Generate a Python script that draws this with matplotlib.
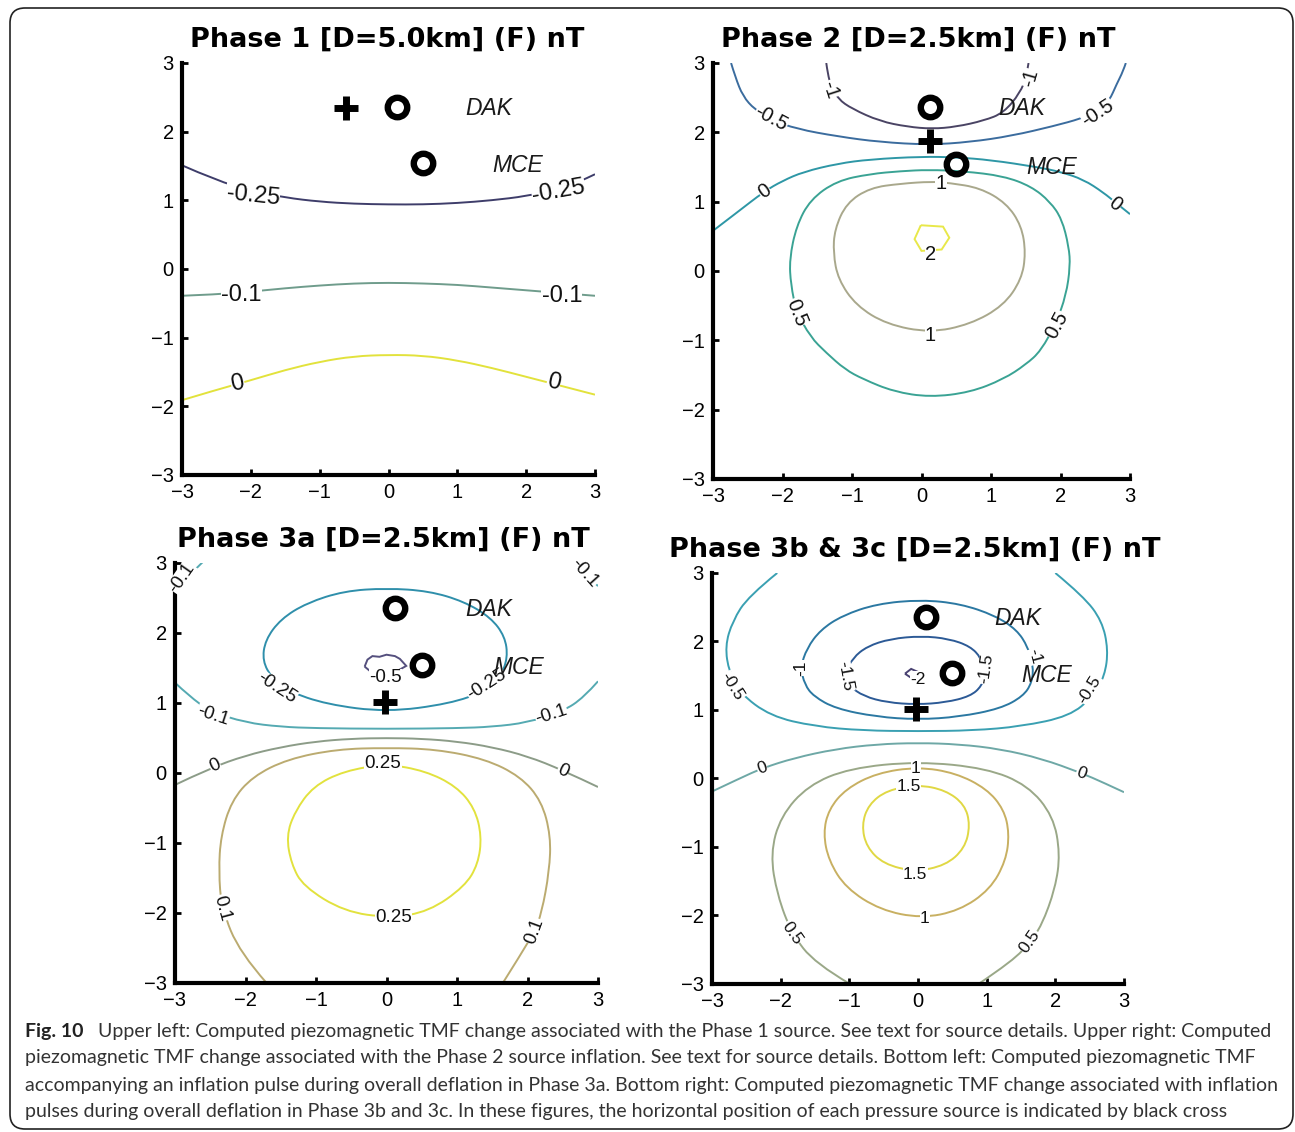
import matplotlib
matplotlib.use("Agg")
import matplotlib.pyplot as plt
from matplotlib.patches import FancyBboxPatch, PathPatch
from matplotlib.path import Path

W, H = 1295, 1132

# station locations (km) and the source cross of each phase
stations = ["DAK", "MCE"]
station_x = [0.12, 0.5]
station_y = [2.36, 1.54]
station_label_x = [1.45, 1.88]
station_label_y = [2.34, 1.50]
source_x = [-0.62, 0.12, -0.02, -0.03]
source_y = [2.35, 1.87, 1.02, 1.01]

titles = ["Phase 1 [D=5.0km] (F) nT", "Phase 2 [D=2.5km] (F) nT",
          "Phase 3a [D=2.5km] (F) nT", "Phase 3b & 3c [D=2.5km] (F) nT"]

# ---- Phase 1 contour lines: level -> list of (x, y) segments
p1_lines = {
    "-0.25": [([-3, -2.5, -2, -1.5, -1, -0.5, 0, 0.5, 1, 1.5, 2, 2.5, 2.75, 3],
               [1.51, 1.29, 1.14, 1.04, 0.98, 0.95, 0.94, 0.94, 0.96, 1.0, 1.06, 1.17, 1.26, 1.38])],
    "-0.1": [([-3, -2.5, -2, -1.5, -1, -0.5, 0, 0.5, 1, 1.5, 2, 2.5, 3],
              [-0.39, -0.37, -0.33, -0.28, -0.24, -0.21, -0.20, -0.21, -0.23, -0.27, -0.31, -0.35, -0.39])],
    "0": [([-3, -2.5, -2, -1.5, -1, -0.5, 0, 0.5, 1, 1.5, 2, 2.5, 3],
           [-1.91, -1.76, -1.62, -1.47, -1.35, -1.27, -1.25, -1.26, -1.33, -1.44, -1.57, -1.70, -1.83])],
}
p1_colors = {"-0.25": "#3e3d6a", "-0.1": "#6f9c8c", "0": "#e2e23c"}
p1_labels = [("-0.25", -1.97, 1.07, -6), ("-0.25", 2.47, 1.13, 10),
             ("-0.1", -2.14, -0.38, 0), ("-0.1", 2.52, -0.39, 0),
             ("0", -2.19, -1.67, 12), ("0", 2.4, -1.65, -12)]

# ---- Phase 2
p2_lines = {
    "-1": [([-1.37, -1.33, -1.2, -1.0, -0.6, -0.2, 0.15, 0.5, 0.9, 1.18, 1.42, 1.51, 1.54],
            [3.0, 2.7, 2.48, 2.34, 2.16, 2.08, 2.05, 2.08, 2.17, 2.28, 2.57, 2.81, 3.0])],
    "-0.5": [([-2.74, -2.68, -2.57, -2.4, -2.16, -1.8, -1.2, -0.6, 0.1, 0.7, 1.3, 1.9, 2.3, 2.54, 2.7, 2.81, 2.9, 2.94],
              [3.0, 2.8, 2.52, 2.33, 2.18, 2.05, 1.94, 1.86, 1.82, 1.86, 1.95, 2.09, 2.2, 2.3, 2.45, 2.7, 2.88, 3.0])],
    "0": [([-3, -2.66, -2.26, -2.0, -1.7, -1.2, -0.74, 0, 0.5, 1.0, 1.66, 2.0, 2.33, 2.62, 2.8, 3.0],
           [0.58, 0.84, 1.15, 1.3, 1.43, 1.55, 1.61, 1.65, 1.64, 1.6, 1.5, 1.43, 1.32, 1.13, 0.98, 0.82])],
    "0.5": [([0.1, -0.3, -0.74, -1.22, -1.6, -1.8, -1.9, -1.88, -1.8, -1.6, -1.37, -1.1, -0.84, -0.4, 0.12,
              0.7, 1.18, 1.5, 1.72, 1.94, 2.08, 2.14, 2.12, 2.02, 1.85, 1.58, 1.18, 0.6, 0.1],
             [1.46, 1.44, 1.40, 1.30, 1.03, 0.65, 0.17, -0.2, -0.58, -0.95, -1.18, -1.42, -1.56, -1.74, -1.82,
              -1.75, -1.56, -1.35, -1.15, -0.74, -0.35, 0.07, 0.35, 0.75, 1.0, 1.22, 1.37, 1.44, 1.46])],
    "1": [([0.15, -0.3, -0.74, -1.08, -1.25, -1.27, -1.2, -0.94, -0.5, 0.12, 0.7, 1.18, 1.44, 1.5, 1.44, 1.22, 0.84, 0.4, 0.15],
           [1.29, 1.26, 1.2, 0.98, 0.6, 0.26, -0.12, -0.5, -0.77, -0.89, -0.77, -0.5, -0.12, 0.26, 0.65, 0.98, 1.2, 1.27, 1.29])],
    "2": [([-0.01, 0.31, 0.40, 0.29, 0.0, -0.10, -0.01],
           [0.66, 0.64, 0.48, 0.31, 0.29, 0.46, 0.66])],
}
p2_colors = {"-1": "#4a4464", "-0.5": "#3b6c9e", "0": "#2e97a6",
             "0.5": "#3aa394", "1": "#a9a88c", "2": "#e8e84a"}
p2_labels = [("-1", -1.32, 2.62, -72), ("-1", 1.56, 2.78, 74),
             ("-0.5", -2.16, 2.2, -28), ("-0.5", 2.54, 2.28, 33),
             ("0", -2.26, 1.15, 35), ("0", 2.79, 0.96, -38),
             ("1", 0.28, 1.26, 0), ("1", 0.13, -0.93, 0),
             ("0.5", -1.8, -0.6, -68), ("0.5", 1.95, -0.78, 62),
             ("2", 0.13, 0.24, 0)]

# ---- Phase 3a
p3_lines = {
    "-0.5": [([-0.31, -0.27, -0.2, -0.1, 0.0, 0.12, 0.19, 0.28, 0.14, 0.0, -0.19, -0.31],
              [1.52, 1.62, 1.67, 1.66, 1.69, 1.67, 1.63, 1.53, 1.45, 1.44, 1.42, 1.52])],
    "-0.25": [([0, -0.6, -1.13, -1.5, -1.72, -1.76, -1.62, -1.4, -0.85, 0, 0.9, 1.4, 1.62, 1.72, 1.68, 1.48, 1.1, 0.6, 0],
               [2.64, 2.6, 2.43, 2.2, 1.9, 1.6, 1.35, 1.17, 0.98, 0.87, 0.99, 1.17, 1.38, 1.65, 1.95, 2.22, 2.45, 2.6, 2.64])],
    "-0.1": [([-3, -2.8, -2.5, -2.0, -1.5, -1, 0, 1, 1.5, 2.0, 2.5, 2.8, 3],
              [1.29, 1.1, 0.88, 0.72, 0.66, 0.64, 0.63, 0.64, 0.66, 0.72, 0.88, 1.08, 1.31]),
             ([-3, -2.85, -2.6], [2.57, 2.78, 3.02]),
             ([2.64, 2.81, 3], [3.0, 2.86, 2.67])],
    "0": [([-3, -2.5, -2, -1.5, -1, -0.5, 0, 0.5, 1, 1.5, 2, 2.5, 3],
           [-0.17, 0.07, 0.25, 0.37, 0.45, 0.49, 0.5, 0.49, 0.45, 0.37, 0.24, 0.04, -0.2])],
    "0.1": [([-1.7, -2.08, -2.34, -2.38, -2.35, -2.2, -1.9, -1.4, -0.7, 0, 0.7, 1.4, 1.9, 2.2, 2.33, 2.31, 2.2, 2.1, 1.9, 1.65],
             [-3, -2.57, -1.93, -1.4, -0.9, -0.4, -0.05, 0.2, 0.34, 0.36, 0.34, 0.2, -0.05, -0.4, -0.9, -1.4, -2.0, -2.26, -2.6, -3])],
    "0.25": [([0, -0.6, -1.04, -1.3, -1.42, -1.35, -1.18, -0.6, 0.05, 0.6, 1.11, 1.3, 1.35, 1.25, 0.99, 0.55, 0],
              [0.13, 0.03, -0.19, -0.55, -0.9, -1.3, -1.62, -1.98, -2.07, -1.98, -1.62, -1.3, -0.9, -0.5, -0.19, 0.03, 0.13])],
}
p3_colors = {"-0.5": "#55507e", "-0.25": "#2f8fab", "-0.1": "#55aab2",
             "0": "#8c9c88", "0.1": "#bbab70", "0.25": "#e2e23e"}
p3_labels = [("-0.1", -2.9, 2.79, 55), ("-0.1", 2.81, 2.86, -48),
             ("-0.25", -1.56, 1.21, -33), ("-0.25", 1.42, 1.26, 33),
             ("-0.5", -0.02, 1.36, 0),
             ("-0.1", -2.46, 0.82, -18), ("-0.1", 2.34, 0.83, 18),
             ("0", -2.43, 0.1, 25), ("0", 2.5, 0.03, -25),
             ("0.1", -2.34, -1.93, -75), ("0.1", 2.1, -2.26, 70),
             ("0.25", -0.05, 0.14, 0), ("0.25", 0.1, -2.07, 0)]

# ---- Phase 3b & 3c
p4_lines = {
    "-2": [([-0.19, -0.10, -0.01, 0.01, -0.10, -0.19], [1.53, 1.60, 1.56, 1.49, 1.47, 1.53])],
    "-1.5": [([0.05, -0.4, -0.74, -0.95, -1.06, -1.0, -0.79, -0.45, -0.02, 0.4, 0.76, 0.93, 0.98, 0.92, 0.76, 0.45, 0.05],
              [2.08, 2.04, 1.93, 1.76, 1.54, 1.35, 1.2, 1.11, 1.08, 1.11, 1.2, 1.35, 1.55, 1.76, 1.93, 2.04, 2.08])],
    "-1": [([0.05, -0.6, -1.1, -1.42, -1.62, -1.71, -1.65, -1.52, -1.2, -0.6, 0, 0.6, 1.2, 1.53, 1.66, 1.68, 1.6, 1.44, 1.12, 0.62, 0.05],
            [2.61, 2.55, 2.38, 2.17, 1.9, 1.62, 1.37, 1.2, 1.02, 0.9, 0.86, 0.9, 1.02, 1.2, 1.4, 1.65, 1.92, 2.17, 2.38, 2.55, 2.61])],
    "-0.5": [([-2.05, -2.47, -2.7, -2.81, -2.75, -2.6, -2.15, -1.5, -0.8, 0, 0.8, 1.5, 2.21, 2.55, 2.72, 2.77, 2.68, 2.41, 2.0],
              [3, 2.66, 2.3, 1.93, 1.55, 1.25, 0.91, 0.76, 0.7, 0.69, 0.7, 0.76, 0.91, 1.2, 1.5, 1.88, 2.3, 2.66, 3.0])],
    "0": [([-3, -2.6, -2.27, -1.8, -1.2, -0.6, 0, 0.6, 1.2, 1.8, 2.38, 2.7, 3],
           [-0.19, 0.0, 0.15, 0.3, 0.43, 0.5, 0.52, 0.5, 0.43, 0.29, 0.08, -0.06, -0.2])],
    "0.5": [([-0.99, -1.5, -1.84, -2.05, -2.15, -2.0, -1.6, -1.0, 0, 1.0, 1.6, 1.97, 2.07, 2.0, 1.8, 1.63, 1.4, 0.88],
             [-3, -2.7, -2.26, -1.7, -1.1, -0.55, -0.1, 0.15, 0.25, 0.15, -0.1, -0.55, -1.1, -1.6, -2.15, -2.38, -2.65, -3])],
    "1": [([0, -0.6, -1.05, -1.3, -1.38, -1.3, -1.05, -0.55, 0.05, 0.6, 1.05, 1.28, 1.33, 1.25, 1.0, 0.55, 0],
           [0.17, 0.08, -0.15, -0.45, -0.8, -1.2, -1.6, -1.92, -2.04, -1.93, -1.62, -1.2, -0.8, -0.45, -0.15, 0.08, 0.17])],
    "1.5": [([0, -0.45, -0.72, -0.82, -0.75, -0.5, -0.05, 0.4, 0.68, 0.76, 0.68, 0.4, 0],
             [-0.09, -0.17, -0.38, -0.68, -1.0, -1.25, -1.36, -1.27, -1.02, -0.68, -0.38, -0.17, -0.09])],
}
p4_colors = {"-2": "#4a4272", "-1.5": "#2c5a96", "-1": "#2b78a2", "-0.5": "#3aa0b2",
             "0": "#6ea8a6", "0.5": "#9aa888", "1": "#c8b062", "1.5": "#e0d844"}
p4_labels = [("-2", 0.0, 1.45, 0),
             ("-1.5", -1.06, 1.49, -80), ("-1.5", 0.99, 1.6, 82),
             ("-1", -1.71, 1.61, 90), ("-1", 1.7, 1.78, -75),
             ("-0.5", -2.71, 1.34, -58), ("-0.5", 2.5, 1.3, 58),
             ("0", -2.27, 0.15, 20), ("0", 2.38, 0.08, -20),
             ("1", -0.03, 0.15, 0), ("1.5", -0.14, -0.12, 0),
             ("1.5", -0.04, -1.4, 0), ("1", 0.1, -2.04, 0),
             ("0.5", -1.84, -2.26, -55), ("0.5", 1.63, -2.38, 55)]

panels = [
    (p1_lines, p1_colors, p1_labels, 17, (182, 63, 595, 475), (387, 40)),
    (p2_lines, p2_colors, p2_labels, 14.5, (713, 63, 1130, 479), (918, 40)),
    (p3_lines, p3_colors, p3_labels, 13.5, (175, 563, 598, 983), (383, 540)),
    (p4_lines, p4_colors, p4_labels, 12.5, (712, 573, 1124, 984), (915, 550)),
]


def smooth_path(xs, ys):
    # quadratic B-spline style path through the traced points;
    # tiny closed loops stay as plain polygons
    pts = list(zip(xs, ys))
    closed = pts[0] == pts[-1]
    mid = lambda a, b: ((a[0] + b[0]) / 2, (a[1] + b[1]) / 2)
    if len(pts) < 3 or (closed and len(pts) < 13):
        return Path(pts)
    if closed:
        ring = pts[:-1]
        n = len(ring)
        verts = [mid(ring[0], ring[1])]
        codes = [Path.MOVETO]
        for k in range(1, n + 1):
            p = ring[k % n]
            q = ring[(k + 1) % n]
            verts += [p, mid(p, q)]
            codes += [Path.CURVE3, Path.CURVE3]
        return Path(verts, codes)
    verts = [pts[0]]
    codes = [Path.MOVETO]
    for k in range(1, len(pts) - 2):
        verts += [pts[k], mid(pts[k], pts[k + 1])]
        codes += [Path.CURVE3, Path.CURVE3]
    verts += [pts[-2], pts[-1]]
    codes += [Path.CURVE3, Path.CURVE3]
    return Path(verts, codes)


fig = plt.figure(figsize=(W / 100, H / 100), dpi=100)

for i, (lines, colors, labels, lsize, box, tpos) in enumerate(panels):
    x0, y0, x1, y1 = box
    ax = fig.add_axes([x0 / W, 1 - y1 / H, (x1 - x0) / W, (y1 - y0) / H])
    ax.set_xlim(-3, 3)
    ax.set_ylim(-3, 3)
    for lev, segs in lines.items():
        for xs, ys in segs:
            ax.add_patch(PathPatch(smooth_path(xs, ys), facecolor="none",
                                   edgecolor=colors[lev], lw=1.4, zorder=2))
    for txt, lx, ly, rot in labels:
        ax.text(lx, ly, txt, fontsize=lsize,
                family="Liberation Sans", rotation=rot, rotation_mode="anchor",
                ha="center", va="center", color="#111111", zorder=3,
                bbox=dict(facecolor="white", edgecolor="none", pad=0.2))
    # stations and source
    ax.plot(station_x, station_y, "o", ms=14, mfc="none", mec="black", mew=4.6, zorder=5)
    ax.plot(source_x[i], source_y[i], "+", ms=17, mec="black", mew=5, zorder=5)
    for name, tx, ty in zip(stations, station_label_x, station_label_y):
        ax.text(tx, ty, name, fontsize=16.5, style="italic", family="Liberation Sans",
                ha="center", va="center", color="#1a1a1a", zorder=4)

    ax.set_xticks([-3, -2, -1, 0, 1, 2, 3])
    ax.set_yticks([-3, -2, -1, 0, 1, 2, 3])
    ax.set_xticklabels(["\u22123", "\u22122", "\u22121", "0", "1", "2", "3"])
    ax.set_yticklabels(["\u22123", "\u22122", "\u22121", "0", "1", "2", "3"])
    for lab in ax.get_xticklabels() + ax.get_yticklabels():
        lab.set_family("Liberation Sans")
        lab.set_fontsize(14.5)
    ax.tick_params(direction="in", length=4, width=2, pad=6)
    for s in ["top", "right"]:
        ax.spines[s].set_visible(False)
    for s in ["left", "bottom"]:
        ax.spines[s].set_linewidth(3)
    ax.patch.set_alpha(0)

    fig.text(tpos[0] / W, 1 - tpos[1] / H, titles[i], fontsize=19.5, fontweight="bold",
             family="DejaVu Sans", ha="center", va="center")

# caption
caption = [
    "Upper left: Computed piezomagnetic TMF change associated with the Phase 1 source. See text for source details. Upper right: Computed",
    "piezomagnetic TMF change associated with the Phase 2 source inflation. See text for source details. Bottom left: Computed piezomagnetic TMF",
    "accompanying an inflation pulse during overall deflation in Phase 3a. Bottom right: Computed piezomagnetic TMF change associated with inflation",
    "pulses during overall deflation in Phase 3b and 3c. In these figures, the horizontal position of each pressure source is indicated by black cross",
]
cap_y = [1032, 1058, 1085, 1111]
fig.text(25 / W, 1 - cap_y[0] / H, "Fig. 10", fontsize=14, fontweight="bold",
         family="Lato", ha="left", va="center", color="#222222")
for k, line in enumerate(caption):
    fig.text((98 if k == 0 else 25) / W, 1 - cap_y[k] / H, line, fontsize=14,
             family="Lato", ha="left", va="center", color="#333333")

# rounded frame around figure and caption
frame = FancyBboxPatch((0.10, 0.03), 12.83, 11.21,
                       boxstyle="round,pad=0,rounding_size=0.15",
                       transform=fig.dpi_scale_trans, facecolor="none",
                       edgecolor="#222222", lw=1.2)
fig.add_artist(frame)

fig.savefig("out.png", dpi=100)
